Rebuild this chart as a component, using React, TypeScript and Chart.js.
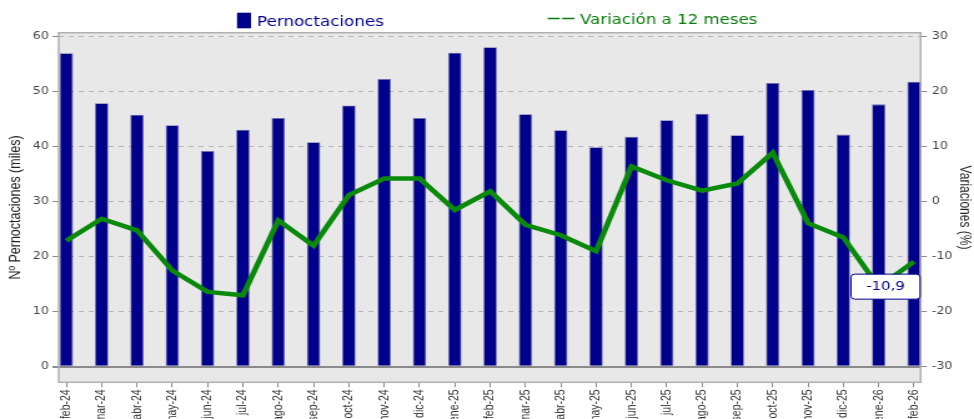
import React, { useEffect, useRef } from 'react';
import { Chart, registerables } from 'chart.js';

Chart.register(...registerables);

const categories = [
  'feb-24', 'mar-24', 'abr-24', 'may-24', 'jun-24', 'jul-24', 'ago-24', 'sep-24', 'oct-24',
  'nov-24', 'dic-24', 'ene-25', 'feb-25', 'mar-25', 'abr-25', 'may-25', 'jun-25', 'jul-25',
  'ago-25', 'sep-25', 'oct-25', 'nov-25', 'dic-25', 'ene-26', 'feb-26',
];

const pernoctaciones = [
  57.0, 47.9, 45.8, 43.9, 39.2, 43.1, 45.2, 40.8, 47.5, 52.3, 45.2, 57.1, 58.1,
  45.9, 43.0, 39.9, 41.8, 44.8, 46.0, 42.1, 51.6, 50.3, 42.2, 47.7, 51.8,
];

const variacion = [
  -7.1, -3.1, -5.2, -12.5, -16.4, -17.0, -3.4, -8.0, 1.2, 4.2, 4.2, -1.5, 1.9,
  -4.2, -6.1, -9.0, 6.4, 3.9, 2.0, 3.3, 8.9, -3.9, -6.5, -15.5, -10.9,
];

const leftTicks = [0, 10, 20, 30, 40, 50, 60];
const rightTicks = [-30, -20, -10, 0, 10, 20, 30];

const barLabel = 'Pernoctaciones';
const lineLabel = 'Variación a 12 meses';
const leftTitle = 'Nº Pernoctaciones (miles)';
const rightTitle = 'Variaciones (%)';
const calloutText = '-10,9';

const W = 780;
const H = 440;
const NAVY = '#00008b';
const GREEN = '#0a8a0a';
const LEGEND_GREEN = '#0a7a0a';
const SANS = "'Liberation Sans', Arial, sans-serif";
const DEJAVU = "'DejaVu Sans', Verdana, sans-serif";

export default function App() {
  const ref = useRef<HTMLCanvasElement>(null);

  useEffect(() => {
    const canvas = ref.current;
    if (!canvas) return;

    const decor = {
      id: 'decor',
      beforeDraw(chart: any) {
        const { ctx, chartArea: a } = chart;
        ctx.save();
        ctx.fillStyle = '#e8e8e8';
        ctx.fillRect(a.left, a.top, a.right - a.left, a.bottom - a.top);
        ctx.restore();
      },
      afterDraw(chart: any) {
        const { ctx, chartArea: a } = chart;
        ctx.save();
        // plot frame
        ctx.strokeStyle = '#b0b0b0';
        ctx.lineWidth = 1.5;
        ctx.strokeRect(a.left, a.top, a.right - a.left, a.bottom - a.top);

        // callout label
        const meta = chart.getDatasetMeta(1);
        const last = meta.data[meta.data.length - 1];
        const bw = 55.3;
        const bh = 25;
        const bx = a.right - 0.5 - bw;
        const by = last.y + 12.5;
        ctx.beginPath();
        ctx.roundRect(bx, by, bw, bh, 3);
        ctx.fillStyle = '#ffffff';
        ctx.fill();
        ctx.strokeStyle = NAVY;
        ctx.lineWidth = 1;
        ctx.stroke();
        ctx.fillStyle = NAVY;
        ctx.font = `12px ${DEJAVU}`;
        ctx.textAlign = 'center';
        ctx.textBaseline = 'middle';
        ctx.fillText(calloutText, bx + bw / 2, by + bh / 2 + 0.5);

        // legend
        ctx.textAlign = 'left';
        ctx.textBaseline = 'alphabetic';
        ctx.fillStyle = NAVY;
        ctx.fillRect(189.8, 12.7, 11.2, 15.6);
        ctx.font = `13.4px ${DEJAVU}`;
        ctx.fillText(barLabel, 205.8, 25.5);

        ctx.strokeStyle = LEGEND_GREEN;
        ctx.lineWidth = 1.3;
        ctx.beginPath();
        ctx.moveTo(438.6, 18.5);
        ctx.lineTo(448.4, 18.5);
        ctx.moveTo(450.2, 18.5);
        ctx.lineTo(460, 18.5);
        ctx.stroke();
        ctx.fillStyle = LEGEND_GREEN;
        ctx.font = `13.3px ${DEJAVU}`;
        ctx.fillText(lineLabel, 464.5, 23.6);
        ctx.restore();
      },
    };

    const chart = new Chart(canvas, {
      type: 'bar',
      data: {
        datasets: [
          {
            type: 'bar',
            label: barLabel,
            data: categories.map((_, i) => ({ x: i, y: pernoctaciones[i] })),
            backgroundColor: NAVY,
            borderColor: '#6f6fb0',
            borderWidth: 0.8,
            barPercentage: 0.38,
            categoryPercentage: 1,
            yAxisID: 'y',
            order: 2,
          } as any,
          {
            type: 'line',
            label: lineLabel,
            data: categories.map((_, i) => ({ x: i, y: variacion[i] })),
            borderColor: GREEN,
            backgroundColor: GREEN,
            borderWidth: 4.5,
            pointRadius: 0,
            tension: 0,
            fill: false,
            yAxisID: 'y2',
            order: 1,
          } as any,
        ],
      },
      options: {
        responsive: false,
        animation: false,
        devicePixelRatio: 1,
        layout: { padding: { top: 32.7, left: 0, right: 0, bottom: 0 } },
        plugins: {
          legend: { display: false },
          tooltip: { enabled: false },
        },
        scales: {
          x: {
            type: 'linear',
            offset: false,
            min: -0.216,
            max: 24.19,
            afterBuildTicks: (s: any) => {
              s.ticks = categories.map((_, i) => ({ value: i }));
            },
            afterFit: (s: any) => {
              s.height = 57.7;
              s.paddingLeft = 0;
              s.paddingRight = 0;
            },
            ticks: {
              autoSkip: false,
              maxRotation: 90,
              minRotation: 90,
              padding: 2,
              color: '#333',
              font: { family: SANS, size: 10.5 },
              callback: (v: any) => categories[v] ?? '',
            },
            grid: {
              offset: false,
              drawOnChartArea: false,
              drawTicks: true,
              tickLength: 5,
              tickColor: '#8c8c8c',
              tickWidth: 1,
            },
            border: { display: false },
          },
          y: {
            type: 'linear',
            position: 'left',
            min: -2.84,
            max: 60.73,
            afterBuildTicks: (s: any) => {
              s.ticks = leftTicks.map((v) => ({ value: v }));
            },
            afterFit: (s: any) => {
              s.width = 47;
            },
            ticks: {
              padding: 3,
              color: '#444',
              font: { family: DEJAVU, size: 10 },
            },
            grid: {
              color: (c: any) => (c.tick && c.tick.value === 0 ? '#8a8a8a' : '#b4b4b4'),
              lineWidth: (c: any) => (c.tick && c.tick.value === 0 ? 2 : 1),
              tickLength: 5,
              tickColor: '#8c8c8c',
              tickBorderDash: [],
            },
            border: {
              display: false,
              dash: (c: any) => (c.tick && c.tick.value === 0 ? [] : [4, 4]),
            },
            title: {
              display: true,
              text: leftTitle,
              color: '#222',
              font: { family: SANS, size: 12.5 },
              padding: { top: 5, bottom: 0 },
            },
          },
          y2: {
            type: 'linear',
            position: 'right',
            min: -32.84,
            max: 30.73,
            afterBuildTicks: (s: any) => {
              s.ticks = rightTicks.map((v) => ({ value: v }));
            },
            afterFit: (s: any) => {
              s.width = 42.7;
            },
            ticks: {
              padding: 4,
              color: '#444',
              font: { family: DEJAVU, size: 10 },
            },
            grid: {
              drawOnChartArea: false,
              tickLength: 5,
              tickColor: '#8c8c8c',
            },
            border: { display: false },
            title: {
              display: true,
              text: rightTitle,
              color: '#222',
              font: { family: SANS, size: 12 },
              padding: { top: 0, bottom: 0 },
            },
          },
        },
      } as any,
      plugins: [decor],
    });

    return () => chart.destroy();
  }, []);

  return (
    <div style={{ position: 'absolute', left: 0, top: 0, width: 974, height: 419, overflow: 'hidden' }}>
      <canvas ref={ref} width={W} height={H} style={{ width: '974px', height: `${H}px` }} />
    </div>
  );
}
